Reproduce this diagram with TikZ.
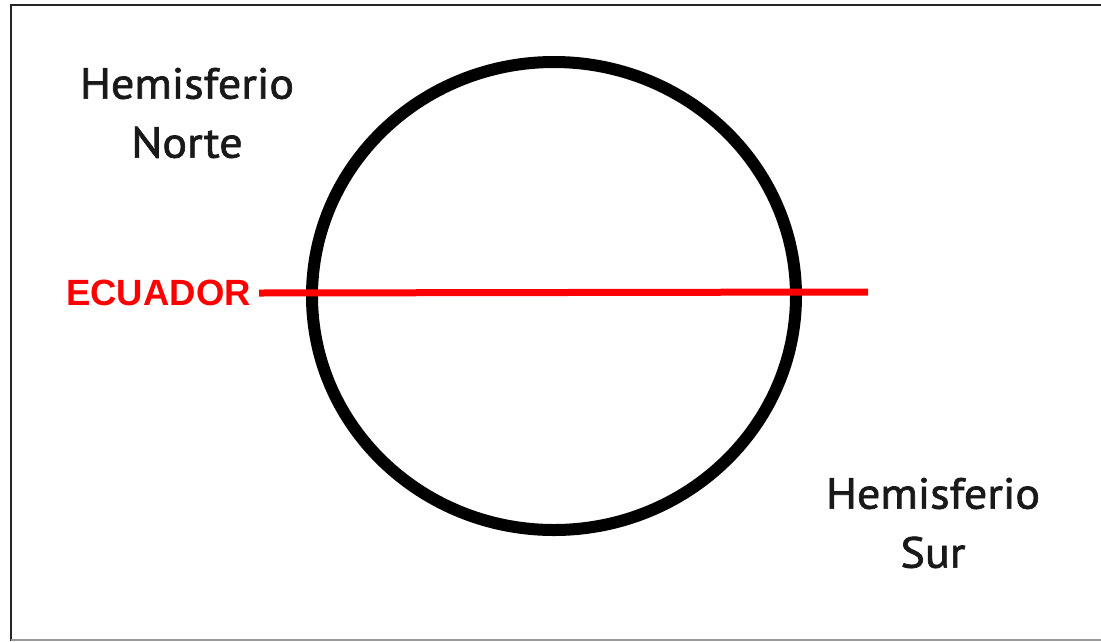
\documentclass[tikz,border=0pt]{standalone}
\usepackage{fontspec}
\setmainfont{PT Sans}
\newfontfamily\hemifont[FakeBold=1.6, FakeStretch=1.06]{PT Sans}
\newfontfamily\arialb{Liberation Sans}
\tikzset{
  frameline/.style={draw=black!85, line width=2.5pt},
  earth/.style={draw=black, line width=12pt},
  equator/.style={draw=red, line width=7pt},
  hemi/.style={font=\hemifont\fontsize{43.5}{59}\selectfont, align=center, text=black!90, inner sep=0pt},
  eqlabel/.style={font=\arialb\bfseries\fontsize{36.5}{40}\selectfont, text=red, inner sep=0pt, anchor=east}
}
\begin{document}
\begin{tikzpicture}[x=1pt,y=-1pt]
\useasboundingbox (0,0) rectangle (1101,641);
\fill[white] (0,0) rectangle (1101,641);
\draw[frameline] (11,641) -- (11,5) -- (1101,5);
\draw[draw=black!40, line width=1.5pt] (11,640) -- (1101,640);
\draw[earth] (554,296) ellipse [x radius=242, y radius=234];
\node[eqlabel] (ecu) at (251,293) {ECUADOR};
\coordinate (eqend) at (868,292);
\draw[equator] (ecu.east) ++(8,0) coordinate (eqstart) -- (eqend);
\node[hemi] (norte) at (187,113) {Hemisferio\\Norte};
\node[hemi] (sur) at (933,523) {Hemisferio\\Sur};
\end{tikzpicture}
\end{document}
